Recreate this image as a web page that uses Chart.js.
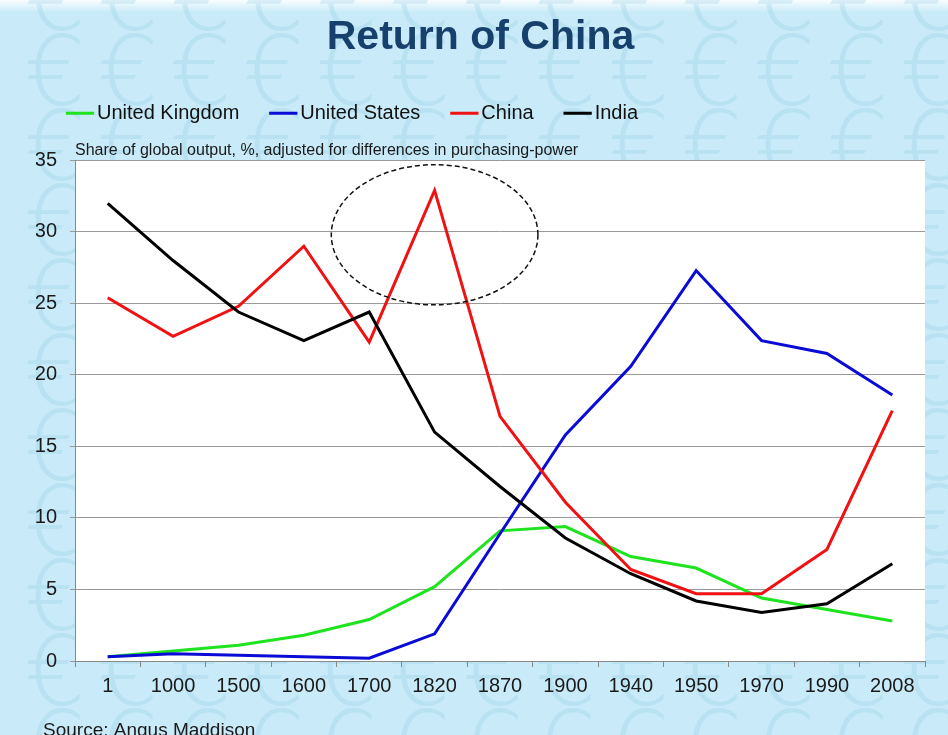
<!DOCTYPE html>
<html>
<head>
<meta charset="utf-8">
<title>Return of China</title>
<script src="https://cdn.jsdelivr.net/npm/chart.js@4.4.1/dist/chart.umd.min.js"></script>
<style>
  html, body { margin: 0; padding: 0; background: #c9ebf9; }
  #wrap { width: 948px; height: 735px; position: relative; }
</style>
</head>
<body>
<div id="wrap"><canvas id="chart"></canvas></div>
<script>
// ─── Data (share of global output, %, PPP) ─────────────
const years   = ['1', '1000', '1500', '1600', '1700', '1820', '1870', '1900', '1940', '1950', '1970', '1990', '2008'];
const ukShare = [0.3, 0.7, 1.1, 1.8, 2.9, 5.2, 9.1, 9.4, 7.3, 6.5, 4.4, 3.6, 2.8];
const usShare = [0.3, 0.5, 0.4, 0.3, 0.2, 1.9, 8.9, 15.8, 20.6, 27.3, 22.4, 21.5, 18.6];
const cnShare = [25.4, 22.7, 24.8, 29.0, 22.3, 32.9, 17.1, 11.1, 6.4, 4.7, 4.7, 7.8, 17.5];
const inShare = [32.0, 28.0, 24.4, 22.4, 24.4, 16.0, 12.2, 8.6, 6.1, 4.2, 3.4, 4.0, 6.8];

const subtitleText = 'Share of global output, %, adjusted for differences in purchasing-power';
const sourceText   = 'Source: Angus Maddison';

// dashed ring round China's 1820 peak (category index, value, half-spans)
const highlight = { index: 5, value: 29.8, spanX: 1.58, spanY: 4.9 };

const FONT = '"Liberation Sans", Arial, sans-serif';
Chart.defaults.font.family = FONT;
Chart.defaults.color = '#1a1a1a';

// ─── Plugins ───────────────────────────────────────────

const slideBackground = {
  id: 'slideBackground',
  beforeDraw(chart) {
    const { ctx, width, height, chartArea: a } = chart;
    ctx.save();
    ctx.fillStyle = '#c9ebf9';
    ctx.fillRect(0, 0, width, height);

    const top = ctx.createLinearGradient(0, 0, 0, 12);
    top.addColorStop(0, 'rgba(255,255,255,0.9)');
    top.addColorStop(1, 'rgba(255,255,255,0)');
    ctx.fillStyle = top;
    ctx.fillRect(0, 0, width, 12);

    ctx.font = '200 96px "DejaVu Sans"';
    ctx.fillStyle = 'rgba(140, 200, 226, 0.28)';
    ctx.textAlign = 'center';
    ctx.textBaseline = 'middle';
    for (let y = 5; y < height + 40; y += 75) {
      for (let x = 55; x < width + 40; x += 73) ctx.fillText('€', x, y);
    }

    ctx.fillStyle = '#ffffff';
    ctx.fillRect(a.left, a.top, a.right - a.left, a.bottom - a.top);
    ctx.restore();
  },
};

const annotations = {
  id: 'annotations',
  afterDatasetsDraw(chart) {
    const { ctx, scales: { x, y } } = chart;
    const cx = x.getPixelForValue(highlight.index);
    const cy = y.getPixelForValue(highlight.value);
    const rx = (x.getPixelForValue(1) - x.getPixelForValue(0)) * highlight.spanX;
    const ry = y.getPixelForValue(0) - y.getPixelForValue(highlight.spanY);
    ctx.save();
    ctx.setLineDash([5, 3]);
    ctx.lineWidth = 1.5;
    ctx.strokeStyle = '#111';
    ctx.beginPath();
    ctx.ellipse(cx, cy, rx, ry, 0, 0, Math.PI * 2);
    ctx.stroke();
    ctx.restore();
  },
  afterDraw(chart) {
    const { ctx } = chart;
    ctx.save();
    ctx.fillStyle = '#1a1a1a';
    ctx.textAlign = 'left';
    ctx.textBaseline = 'alphabetic';
    ctx.font = '19px ' + FONT;
    ctx.fillText(sourceText, 43, 736);
    ctx.restore();
  },
};

// ─── Chart ─────────────────────────────────────────────

const series = [
  { label: 'United Kingdom', data: ukShare, color: '#1fe31f', order: 4 },
  { label: 'United States',  data: usShare, color: '#0b0bd6', order: 3 },
  { label: 'China',          data: cnShare, color: '#f01212', order: 2 },
  { label: 'India',          data: inShare, color: '#000000', order: 1 },
];

new Chart(document.getElementById('chart'), {
  type: 'line',
  data: {
    labels: years,
    datasets: series.map(s => ({
      label: s.label,
      data: s.data,
      borderColor: s.color,
      backgroundColor: s.color,
      borderWidth: 3,
      pointRadius: 0,
      pointHoverRadius: 0,
      tension: 0,
      order: s.order,
    })),
  },
  options: {
    responsive: true,
    maintainAspectRatio: false,
    animation: false,
    layout: { padding: { top: 0, left: 36, right: 23, bottom: 30 } },
    plugins: {
      title: {
        display: true,
        text: 'Return of China',
        color: '#18406c',
        font: { size: 41, weight: 'bold' },
        padding: { top: 13, bottom: 4 },
      },
      legend: {
        position: 'top',
        align: 'start',
        reverse: true,
        weight: 1000,
        labels: {
          usePointStyle: true,
          pointStyle: 'line',
          boxWidth: 14,
          boxHeight: 20,
          padding: 37,
          color: '#111',
          font: { size: 20 },
        },
      },
      subtitle: {
        display: true,
        text: subtitleText,
        position: 'top',
        align: 'start',
        fullSize: false,
        weight: 500,
        color: '#1a1a1a',
        font: { size: 16 },
        padding: { top: 8, bottom: 0 },
      },
      tooltip: { enabled: false },
    },
    scales: {
      x: {
        offset: true,
        grid: { offset: true, drawOnChartArea: false, tickLength: 6, color: '#888' },
        border: { color: '#888', width: 1 },
        ticks: { font: { size: 20 }, padding: 7, maxRotation: 0, autoSkip: false, color: '#1a1a1a' },
      },
      y: {
        min: 0,
        max: 35,
        afterFit: axis => { axis.width = 39; },
        grid: { color: '#999', lineWidth: 1, tickLength: 5 },
        border: { color: '#888', width: 1 },
        ticks: { stepSize: 5, font: { size: 20 }, padding: 13, color: '#1a1a1a' },
      },
    },
  },
  plugins: [slideBackground, annotations],
});
</script>
</body>
</html>
